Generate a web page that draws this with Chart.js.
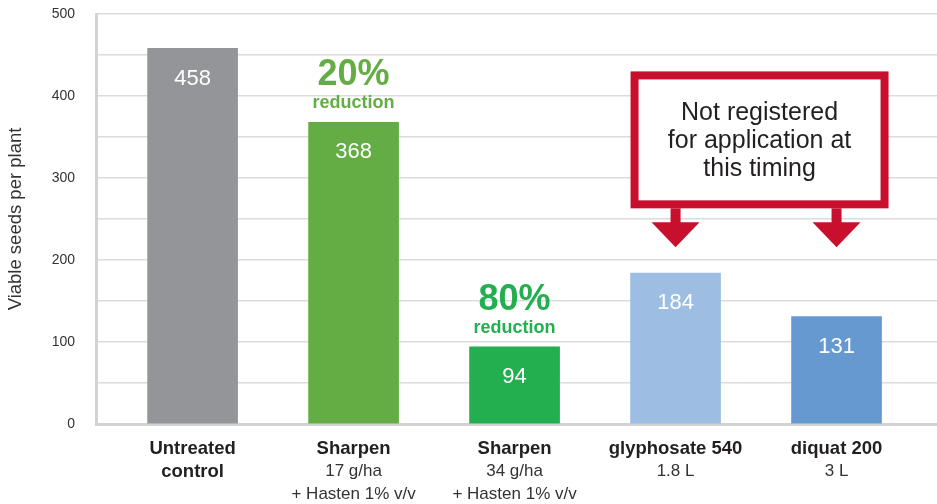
<!DOCTYPE html>
<html>
<head>
<meta charset="utf-8">
<script src="https://cdn.jsdelivr.net/npm/chart.js@4.4.1/dist/chart.umd.min.js"></script>
<style>
html,body{margin:0;padding:0;background:#fff;}
#wrap{width:937px;height:504px;position:relative;}
</style>
</head>
<body>
<div id="wrap"><canvas id="c" width="937" height="504"></canvas></div>
<script>
// ---- data ----
const categoriesBold = [["Untreated","control"],["Sharpen"],["Sharpen"],["glyphosate 540"],["diquat 200"]];
const categoriesSub = [[],["17 g/ha","+ Hasten 1% v/v"],["34 g/ha","+ Hasten 1% v/v"],["1.8 L"],["3 L"]];
const seedValues = [458, 368, 94, 184, 131];
const barColors = ["#939598","#63ad44","#23ae50","#9dbde3","#6699cf"];
const reductionLabels = [null, "20%", "80%", null, null];
const yTicks = [0, 100, 200, 300, 400, 500];
const noteLines = ["Not registered","for application at","this timing"];
const noteBars = [3, 4];

const FONT = "'Liberation Sans', Arial, Helvetica, sans-serif";
const TEXT = "#231f20";
const RED = "#c8102e";

const labelsPlugin = {
  id: 'customLabels',
  afterDatasetsDraw(chart) {
    const ctx = chart.ctx;
    const meta = chart.getDatasetMeta(0);
    const xs = chart.scales.x, ys = chart.scales.y;
    ctx.save();
    ctx.textAlign = 'center';
    ctx.textBaseline = 'middle';
    // value labels
    meta.data.forEach((bar, i) => {
      ctx.fillStyle = '#ffffff';
      ctx.font = "22px " + FONT;
      ctx.fillText(String(seedValues[i]), bar.x, bar.y + 30);
      if (reductionLabels[i]) {
        ctx.fillStyle = barColors[i];
        ctx.font = "bold 36px " + FONT;
        ctx.fillText(reductionLabels[i], bar.x, bar.y - 47);
        ctx.font = "bold 18px " + FONT;
        ctx.fillText("reduction", bar.x, bar.y - 19);
      }
    });
    // x labels
    const bottom = chart.chartArea.bottom;
    for (let i = 0; i < categoriesBold.length; i++) {
      const x = xs.getPixelForValue(i);
      let y = bottom + 25;
      ctx.fillStyle = TEXT;
      ctx.font = "bold 18.5px " + FONT;
      categoriesBold[i].forEach(t => { ctx.fillText(t, x, y); y += 22.5; });
      ctx.fillStyle = '#333333';
      ctx.font = "17px " + FONT;
      categoriesSub[i].forEach(t => { ctx.fillText(t, x, y); y += 22.5; });
    }
    // note box
    const x1 = xs.getPixelForValue(noteBars[0]);
    const x2 = xs.getPixelForValue(noteBars[1]);
    const left = x1 - 45, right = x2 + 52;
    const top = ys.getPixelForValue(430), bot = ys.getPixelForValue(263);
    const bw = 8;
    ctx.fillStyle = RED;
    ctx.fillRect(left, top, right - left, bot - top);
    ctx.fillStyle = '#ffffff';
    ctx.fillRect(left + bw, top + bw, right - left - 2 * bw, bot - top - 2 * bw);
    ctx.fillStyle = TEXT;
    ctx.font = "25px " + FONT;
    const cx = (left + right) / 2;
    noteLines.forEach((t, k) => ctx.fillText(t, cx, top + 42 + k * 28));
    // arrows
    ctx.fillStyle = RED;
    [x1, x2].forEach(ax => {
      ctx.fillRect(ax - 5, bot, 10, 15);
      ctx.beginPath();
      ctx.moveTo(ax - 24, bot + 14);
      ctx.lineTo(ax + 24, bot + 14);
      ctx.lineTo(ax, bot + 39);
      ctx.closePath();
      ctx.fill();
    });
    ctx.restore();
  }
};

new Chart(document.getElementById('c'), {
  type: 'bar',
  data: {
    datasets: [{
      data: seedValues.map((v, i) => ({x: i, y: v})),
      backgroundColor: barColors,
      barThickness: 90,
      borderWidth: 0
    }]
  },
  options: {
    responsive: false,
    animation: false,
    layout: {padding: {top: 14, right: 0, left: 0, bottom: 0}},
    plugins: {legend: {display: false}, tooltip: {enabled: false}},
    scales: {
      x: {
        type: 'linear',
        offset: false,
        min: -0.6, max: 4.624,
        grid: {display: false},
        border: {display: true, color: '#d2d2d2', width: 3},
        ticks: {display: false, padding: 0},
        afterFit(s) { s.height = 80; }
      },
      y: {
        min: 0, max: 500,
        afterBuildTicks(s) {
          const t = [];
          for (let v = 0; v <= 500; v += 50) t.push({value: v});
          s.ticks = t;
        },
        ticks: {
          color: '#333333',
          font: {family: FONT, size: 14},
          padding: 0,
          callback: v => yTicks.includes(v) ? String(v) : ''
        },
        grid: {color: '#dcdcdc', lineWidth: 1.5, drawTicks: true, tickLength: 21, tickColor: 'rgba(0,0,0,0)'},
        border: {display: true, color: '#d2d2d2', width: 3},
        title: {display: true, text: 'Viable seeds per plant', color: '#333333', font: {family: FONT, size: 18.5}, padding: {top: 5, bottom: 4}},
        afterFit(s) { s.width = 96; }
      }
    }
  },
  plugins: [labelsPlugin]
});
</script>
</body>
</html>
